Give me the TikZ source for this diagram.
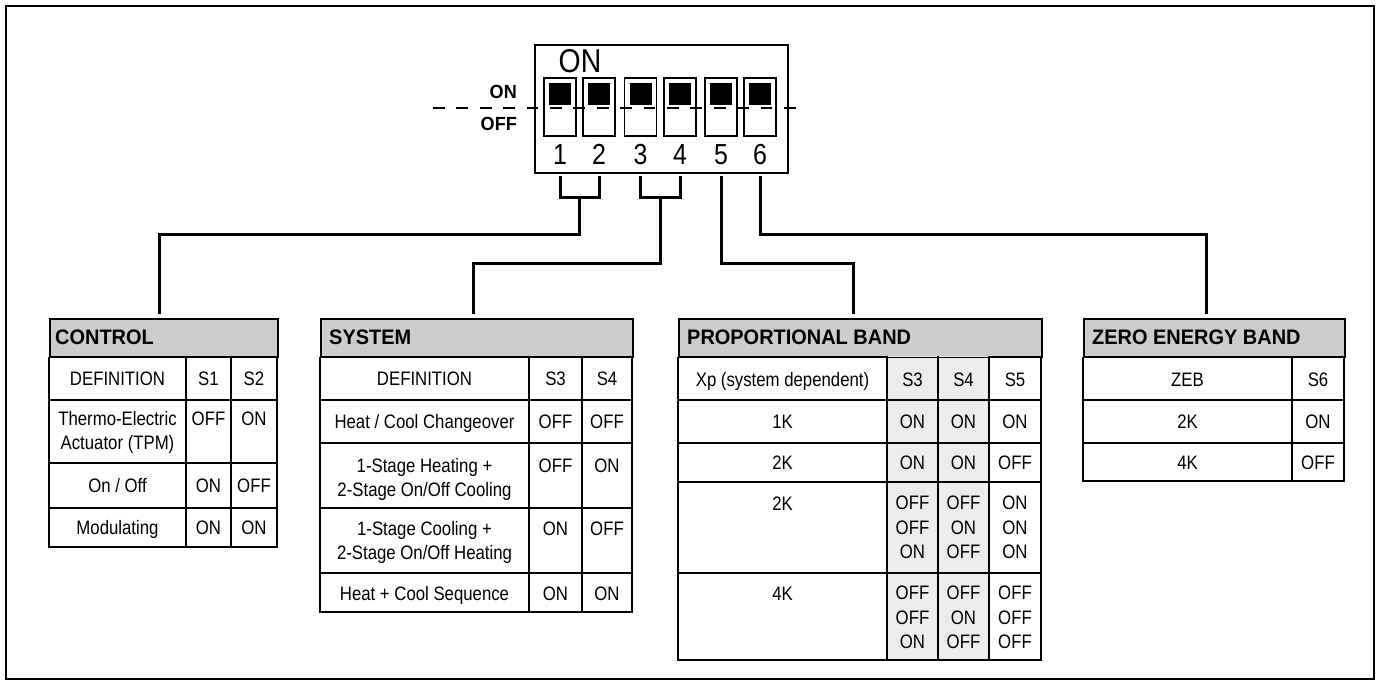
\documentclass[tikz,border=0pt]{standalone}
\usepackage{fontspec}
\setmainfont{Liberation Sans}[FakeStretch=0.86]
\newfontfamily\headfont{Liberation Sans}[FakeStretch=0.95]
\usetikzlibrary{calc,positioning}
\definecolor{hdgray}{RGB}{204,204,204}
\definecolor{colgray}{RGB}{236,236,236}
\tikzset{
  outerframe/.style={draw=black, line width=2.4pt},
  dipbox/.style={draw=black, line width=1.6pt, minimum width=253pt, minimum height=128pt,
    inner sep=0pt, anchor=north west},
  switchbox/.style={draw=black, line width=1.4pt, fill=white, minimum width=32pt,
    minimum height=58pt, inner sep=0pt},
  knob/.style={fill=black, minimum size=22pt, inner sep=0pt},
  cutline/.style={line width=1.3pt, dash pattern=on 11.7pt off 11.7pt},
  link/.style={line width=3pt},
  grid/.style={line width=1.5pt},
  tabhead/.style={draw=black, line width=1.5pt, fill=hdgray, anchor=north west,
    minimum height=38pt, inner sep=0pt},
  headtxt/.style={font=\headfont\bfseries\fontsize{21}{24}\selectfont, anchor=west, inner sep=0pt},
  cell/.style={font=\fontsize{19.5}{24.5}\selectfont, inner sep=0pt, text height=14pt, text depth=0pt},
  stack/.style={font=\fontsize{19.5}{24.5}\selectfont, inner sep=0pt, align=center, anchor=north},
  diplabel/.style={font=\headfont\bfseries\fontsize{19}{22}\selectfont, anchor=east, inner sep=0pt,
    text height=13.6pt, text depth=0pt},
  dipnum/.style={font=\fontsize{29}{32}\selectfont, inner sep=0pt, text height=20.7pt, text depth=0pt}
}
\begin{document}
\begin{tikzpicture}[x=1pt,y=-1pt]
  \useasboundingbox (0,0) rectangle (1379,682);
  \draw[outerframe] (6,6) rectangle (1374,679);

  % DIP switch block
  \node[dipbox] (dip) at (534,44) {};
  \node[font=\fontsize{33}{36}\selectfont, inner sep=0pt, text height=23pt, text depth=0pt] (dipon) at (580,61.5) {ON};
  \foreach \x [count=\i] in {560,599,640.5,680,721,760} {
    \node[switchbox] (sw\i) at (\x,107) {};
    \node[knob] (kn\i) at (\x,94) {};
    \node[dipnum] (num\i) at (\x,154) {\i};
  }
  \node[diplabel] (lblon) at (517,92) {ON};
  \node[diplabel] (lbloff) at (517,124) {OFF};
  \coordinate (cutL) at (433,108);
  \coordinate (cutR) at (799,108);
  \draw[cutline] (cutL) -- (cutR);

  % brackets under the switches
  \draw[link] ($(sw1.south)+(0,39)$) -- ($(sw1.south)+(0,61)$) -| ($(sw2.south)+(0,39)$);
  \draw[link] ($(sw3.south)+(0,39)$) -- ($(sw3.south)+(0,61)$) -| ($(sw4.south)+(0,39)$);
  \coordinate (br12) at ($(sw1.south)!.5!(sw2.south)+(0,61)$);
  \coordinate (br34) at ($(sw3.south)!.5!(sw4.south)+(0,61)$);
  \coordinate (tail5) at ($(sw5.south)+(0,39)$);
  \coordinate (tail6) at ($(sw6.south)+(0,39)$);

  % CONTROL
  \node[tabhead, minimum width=228pt] (ctlhd) at (49,318) {};
  \node[headtxt] (ctlname) at ($(ctlhd.west)+(6,0)$) {CONTROL};
  \draw[grid] (ctlhd.south west) rectangle (277,547);
  \foreach \y in {400,463,508} \draw[grid] (49,\y) -- (277,\y);
  \foreach \x in {186,231} \draw[grid] (\x,356) -- (\x,547);
  \node[cell] (ctldef) at (117.5,378) {DEFINITION};
  \node[stack] (ctltpm) at (117.5,411) {Thermo-Electric\\Actuator (TPM)};
  \node[cell] (ctlonoff) at (117.5,485.5) {On / Off};
  \node[cell] (ctlmod) at (117.5,527.5) {Modulating};
  \foreach \a/\b/\y [count=\i] in {S1/S2/378, OFF/ON/418, ON/OFF/485.5, ON/ON/527.5} {
    \node[cell] (ctla\i) at (208.5,\y) {\a};
    \node[cell] (ctlb\i) at (254,\y) {\b};
  }

  % SYSTEM
  \node[tabhead, minimum width=312pt] (syshd) at (320,318) {};
  \node[headtxt] (sysname) at ($(syshd.west)+(9,0)$) {SYSTEM};
  \draw[grid] (syshd.south west) rectangle (632,612);
  \foreach \y in {400,443,508,573} \draw[grid] (320,\y) -- (632,\y);
  \foreach \x in {529,582} \draw[grid] (\x,356) -- (\x,612);
  \node[cell] (sysdef) at (424.5,378) {DEFINITION};
  \node[cell] (syschg) at (424.5,421.5) {Heat / Cool Changeover};
  \node[stack] (sysheat) at (424.5,458) {1-Stage Heating +\\2-Stage On/Off Cooling};
  \node[stack] (syscool) at (424.5,521) {1-Stage Cooling +\\2-Stage On/Off Heating};
  \node[cell] (sysseq) at (424.5,593) {Heat + Cool Sequence};
  \foreach \a/\b/\y [count=\i] in {S3/S4/378, OFF/OFF/421.5, OFF/ON/465, ON/OFF/528, ON/ON/593} {
    \node[cell] (sysa\i) at (555.5,\y) {\a};
    \node[cell] (sysb\i) at (607,\y) {\b};
  }

  % PROPORTIONAL BAND
  \node[tabhead, minimum width=363pt] (prophd) at (678,318) {};
  \node[headtxt] (propname) at ($(prophd.west)+(9,0)$) {PROPORTIONAL BAND};
  \fill[colgray] (887,356) rectangle (989,660);
  \draw[grid] (prophd.south west) rectangle (1041,660);
  \foreach \y in {400,443,482,573} \draw[grid] (678,\y) -- (1041,\y);
  \foreach \x in {887,938,989} \draw[grid] (\x,356) -- (\x,660);
  \node[cell] (propxp) at (782.5,379) {Xp (system dependent)};
  \foreach \k/\y [count=\i] in {1K/421.5, 2K/462.5, 2K/503, 4K/593}
    \node[cell] (propk\i) at (782.5,\y) {\k};
  \foreach \a/\b/\c/\y [count=\i] in {S3/S4/S5/379, ON/ON/ON/421.5, ON/ON/OFF/462.5} {
    \node[cell] (propa\i) at (912.5,\y) {\a};
    \node[cell] (propb\i) at (963.5,\y) {\b};
    \node[cell] (propc\i) at (1015,\y) {\c};
  }
  \node[stack] (propa4) at (912.5,496) {OFF\\OFF\\ON};
  \node[stack] (propb4) at (963.5,496) {OFF\\ON\\OFF};
  \node[stack] (propc4) at (1015,496) {ON\\ON\\ON};
  \node[stack] (propa5) at (912.5,586) {OFF\\OFF\\ON};
  \node[stack] (propb5) at (963.5,586) {OFF\\ON\\OFF};
  \node[stack] (propc5) at (1015,586) {OFF\\OFF\\OFF};

  % ZERO ENERGY BAND
  \node[tabhead, minimum width=261pt] (zebhd) at (1083,318) {};
  \node[headtxt] (zebname) at ($(zebhd.west)+(9,0)$) {ZERO ENERGY BAND};
  \draw[grid] (zebhd.south west) rectangle (1344,481);
  \foreach \y in {400,443} \draw[grid] (1083,\y) -- (1344,\y);
  \draw[grid] (1292,356) -- (1292,481);
  \foreach \a/\b/\y [count=\i] in {ZEB/S6/379, 2K/ON/421.5, 4K/OFF/462} {
    \node[cell] (zeba\i) at (1187.5,\y) {\a};
    \node[cell] (zebb\i) at (1318,\y) {\b};
  }

  % connectors
  \coordinate (ctlbend) at (159,234);
  \coordinate (sysbend) at (473,263);
  \coordinate (propbend) at (853,263);
  \coordinate (zebbend) at (1206,234);
  \coordinate (ctltop) at ($(ctlhd.north)+(0,-4)$);
  \coordinate (systop) at ($(syshd.north)+(0,-4)$);
  \coordinate (proptop) at ($(prophd.north)+(0,-4)$);
  \coordinate (zebtop) at ($(zebhd.north)+(0,-4)$);
  \draw[link] (br12) |- (ctlbend) -- (ctlbend |- ctltop);
  \draw[link] (br34) |- (sysbend) -- (sysbend |- systop);
  \draw[link] (tail5) |- (propbend) -- (propbend |- proptop);
  \draw[link] (tail6) |- (zebbend) -- (zebbend |- zebtop);
\end{tikzpicture}
\end{document}
